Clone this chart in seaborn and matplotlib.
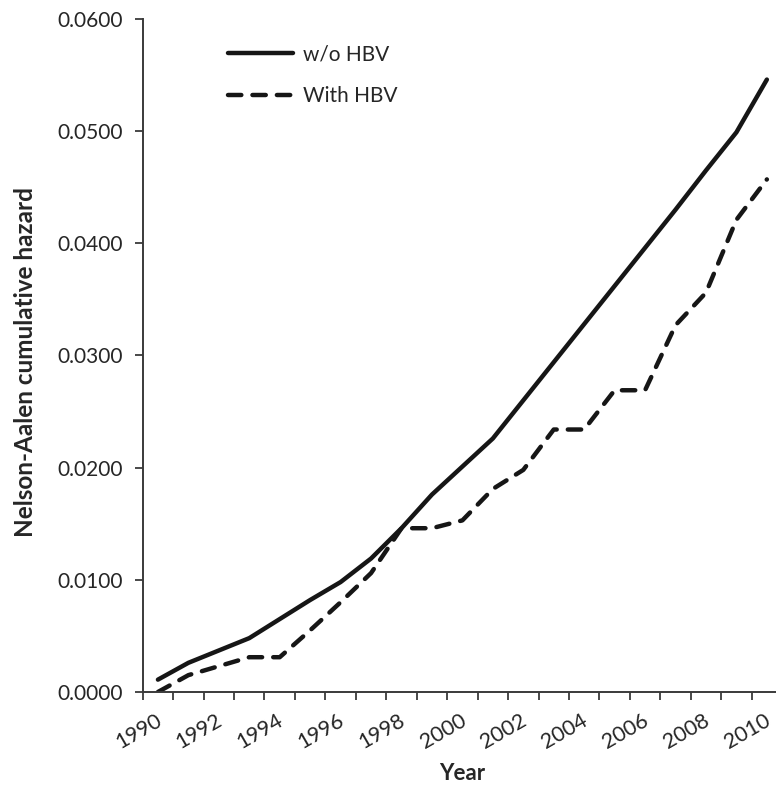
import pandas as pd
import numpy as np
import seaborn as sns
import matplotlib.pyplot as plt
from matplotlib.ticker import FormatStrFormatter
import matplotlib.transforms as mtransforms

years = list(range(1990, 2011))
without_hbv = [0.0011, 0.0026, 0.0037, 0.0048, 0.0065, 0.0082, 0.0098, 0.0119, 0.0146, 0.0176, 0.0201,
               0.0226, 0.0260, 0.0294, 0.0328, 0.0362, 0.0396, 0.0430, 0.0465, 0.0499, 0.0546]
with_hbv = [0.0000, 0.0015, 0.0023, 0.0031, 0.0031, 0.0055, 0.0080, 0.0106, 0.0146, 0.0146, 0.0153,
            0.0181, 0.0198, 0.0234, 0.0234, 0.0269, 0.0269, 0.0327, 0.0356, 0.0421, 0.0457]
series_names = ['w/o HBV', 'With HBV']
year_labels = [str(y) for y in range(1990, 2011, 2)]
y_ticks = [0.0, 0.01, 0.02, 0.03, 0.04, 0.05, 0.06]

df = pd.DataFrame({
    'Year': years * 2,
    'hazard': without_hbv + with_hbv,
    'group': [series_names[0]] * len(years) + [series_names[1]] * len(years),
})

sns.set_theme(style='white')
plt.rcParams['font.family'] = ['Lato', 'DejaVu Sans']
dark = '#262626'

fig = plt.figure(figsize=(7.76, 7.85), dpi=100)
ax = fig.add_axes([0.1839, 0.1185, 0.8161, 0.8573])

sns.lineplot(data=df, x='Year', y='hazard', style='group', color='#161616',
             dashes={series_names[0]: '', series_names[1]: (3.0, 2.5)},
             linewidth=3.2, solid_capstyle='round', dash_capstyle='round',
             legend=False, ax=ax)

ax.set_xlim(1989.5, 2010.30)
ax.set_ylim(0, 0.06)

# ticks between categories, labels at every second category
ax.set_xticks([y - 0.5 for y in years])
ax.set_xticklabels([])
ax.set_xticks([int(s) for s in year_labels], minor=True)
ax.set_xticklabels(year_labels, minor=True, rotation=30, ha='right', fontsize=15.5, color=dark)
ax.tick_params(axis='x', which='major', direction='out', length=6, width=1.3, color='#3a3a3a', bottom=True)
ax.tick_params(axis='x', which='minor', length=0, pad=13, bottom=True)
offset = mtransforms.ScaledTranslation(7 / 100, 0, fig.dpi_scale_trans)
for lbl in ax.get_xticklabels(minor=True):
    lbl.set_transform(lbl.get_transform() + offset)

ax.set_yticks(y_ticks)
ax.yaxis.set_major_formatter(FormatStrFormatter('%.4f'))
ax.tick_params(axis='y', direction='out', length=6, width=1.3, color='#3a3a3a', left=True,
               labelsize=15, labelcolor=dark, pad=8)

for side in ['top', 'right']:
    ax.spines[side].set_visible(False)
for side in ['left', 'bottom']:
    ax.spines[side].set_color('#3a3a3a')
    ax.spines[side].set_linewidth(1.4)

ax.set_xlabel('Year', fontsize=16, fontweight='bold', color=dark)
ax.xaxis.set_label_coords(0.504, -0.1055)
ax.set_ylabel('Nelson-Aalen cumulative hazard', fontsize=17.5, fontweight='bold', color=dark, va='center')
ax.yaxis.set_label_coords(-0.1845, 0.49)

ax.legend(handles=ax.lines[:2], labels=series_names, loc='upper left', bbox_to_anchor=(0.1347, 0.962),
          frameon=False, fontsize=15, handlelength=3.1, handletextpad=0.5, labelspacing=1.05,
          borderaxespad=0, borderpad=0, labelcolor=dark)

fig.savefig('out.png', dpi=100)
